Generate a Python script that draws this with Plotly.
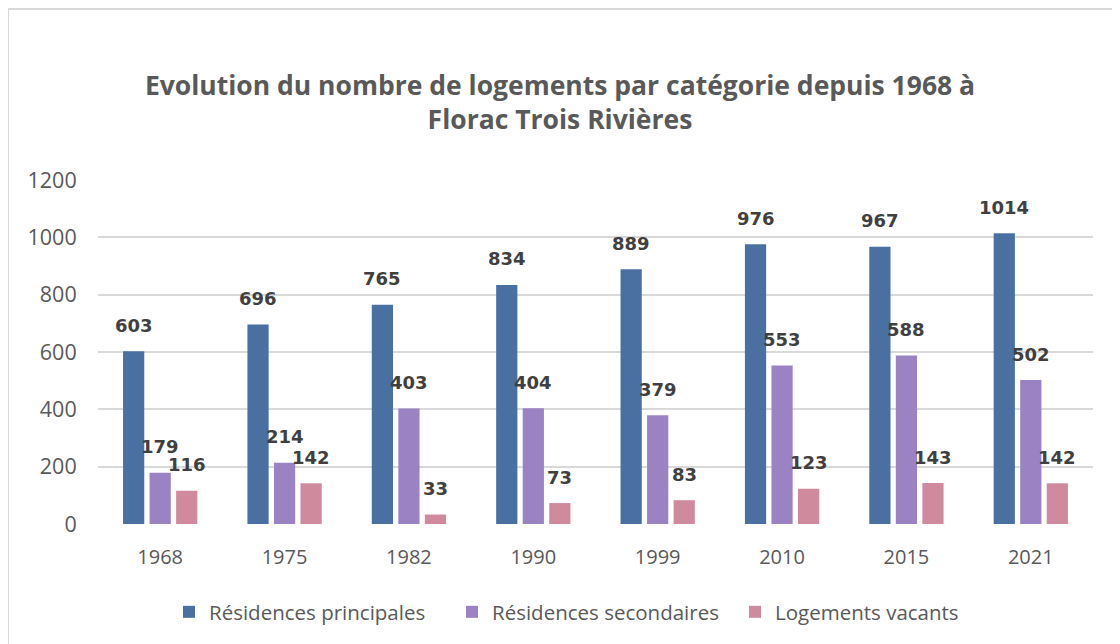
import plotly.graph_objects as go

years = ["1968", "1975", "1982", "1990", "1999", "2010", "2015", "2021"]
principales = [603, 696, 765, 834, 889, 976, 967, 1014]
secondaires = [179, 214, 403, 404, 379, 553, 588, 502]
vacants = [116, 142, 33, 73, 83, 123, 143, 142]
series_names = ["Résidences principales", "Résidences secondaires", "Logements vacants"]
colors = ["#4a70a2", "#9b83c3", "#d08a9e"]
y_ticks = [0, 200, 400, 600, 800, 1000, 1200]

series = [principales, secondaires, vacants]

fig = go.Figure()
for name, vals, col in zip(series_names, series, colors):
    fig.add_trace(go.Bar(x=years, y=vals, name=name, marker=dict(color=col, line=dict(width=0))))

# data labels above bars (x given as category index)
slot = 26.5
for i, vals in enumerate(series):
    for j, v in enumerate(vals):
        fig.add_annotation(x=j, y=v, xref="x", yref="y", text=str(v), showarrow=False,
                           xshift=(i - 1) * slot, yshift=26, yanchor="middle",
                           font=dict(family="DejaVu Sans", size=18, color="#404040", weight="bold"))

L, T, R, B = 90, 172, 35, 128
PW, PH = 1120 - L - R, 644 - T - B

# outer frame
fig.add_shape(type="rect", xref="paper", yref="paper",
              x0=(0 - L) / PW, x1=1.2, y0=-0.6, y1=(PH + T - 1) / PH,
              line=dict(color="#d9d9d9", width=2), layer="below")

fig.update_layout(
    width=1120, height=644,
    margin=dict(l=L, r=R, t=T, b=B),
    paper_bgcolor="white", plot_bgcolor="white",
    barmode="group", bargap=0.36, bargroupgap=0.2,
    title=dict(text="Evolution du nombre de logements par catégorie depuis 1968 à<br>Florac Trois Rivières",
               x=(560 - 8) / 1120, xanchor="center", y=1 - 87 / 644, yanchor="top",
               font=dict(family="Open Sans", size=26.5, color="#595959", weight="bold")),
    font=dict(family="Open Sans", color="#595959"),
    showlegend=True,
    legend=dict(orientation="h", x=(169 - 98) / PW, xanchor="left", y=-(612 - 524) / PH, yanchor="middle",
                font=dict(family="Open Sans", size=20.5, color="#595959"), itemwidth=30,
                entrywidth=238),
)
fig.update_xaxes(type="category", range=[-0.5, len(years) - 0.5], showgrid=False, showline=False, zeroline=False,
                 ticks="outside", ticklen=15, tickcolor="rgba(0,0,0,0)",
                 tickfont=dict(family="Open Sans", size=20, color="#595959"))
fig.update_yaxes(range=[0, 1200], tickvals=y_ticks, showgrid=True, gridcolor="#d9d9d9", gridwidth=1.5,
                 zeroline=False, showline=False, ticks="outside", ticklen=16, tickcolor="rgba(0,0,0,0)",
                 tickfont=dict(family="Open Sans", size=21.5, color="#595959"))

fig.write_html("out.html")
